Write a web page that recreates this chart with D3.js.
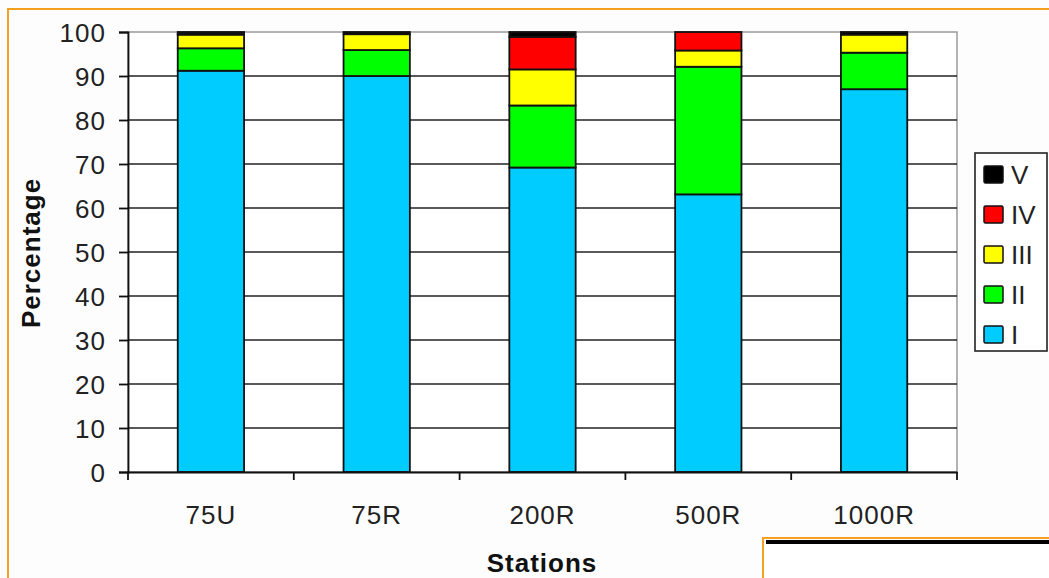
<!DOCTYPE html>
<html>
<head>
<meta charset="utf-8">
<script src="https://cdn.jsdelivr.net/npm/d3@7.9.0/dist/d3.min.js"></script>
<style>
  html, body { margin: 0; padding: 0; background: #fdfdfd; }
  svg { display: block; }
</style>
</head>
<body>
<div id="chart"></div>
<script>
// ---- data ----
const stations = ['75U', '75R', '200R', '500R', '1000R'];
const classes = ['I', 'II', 'III', 'IV', 'V'];
const classI = [91.2, 90.0, 69.2, 63.1, 87.0];
const classII = [5.1, 5.9, 14.1, 29.0, 8.3];
const classIII = [3.1, 3.6, 8.2, 3.7, 4.1];
const classIV = [0.2, 0, 7.4, 4.2, 0];
const classV = [0.4, 0.5, 1.1, 0, 0.6];
const yTicks = [0, 10, 20, 30, 40, 50, 60, 70, 80, 90, 100];

const COLORS = ['#00ccff', '#00ff00', '#ffff00', '#ff0000', '#000000'];
const FONT = '"Liberation Sans", Arial, sans-serif';

const width = 1049, height = 578;
const plot = { left: 128, right: 957, top: 32, bottom: 472 };

const rows = stations.map((s, i) => ({
    station: s,
    I: classI[i], II: classII[i], III: classIII[i], IV: classIV[i], V: classV[i]
}));
const series = d3.stack().keys(classes)(rows);

const svg = d3.select('#chart')
    .append('svg')
    .attr('width', width)
    .attr('height', height)
    .attr('viewBox', `0 0 ${width} ${height}`);

// outer orange frame
svg.append('rect')
    .attr('x', 8).attr('y', 9)
    .attr('width', width + 20).attr('height', height + 20)
    .attr('fill', '#fdfdfd')
    .attr('stroke', '#f5a01e')
    .attr('stroke-width', 2);

const x = d3.scaleBand().domain(stations).range([plot.left, plot.right]).padding(0);
const y = d3.scaleLinear().domain([0, 100]).range([plot.bottom, plot.top]);

// plot area
svg.append('rect')
    .attr('x', plot.left).attr('y', plot.top)
    .attr('width', plot.right - plot.left).attr('height', plot.bottom - plot.top)
    .attr('fill', '#ffffff')
    .attr('stroke', '#9a9a9a')
    .attr('stroke-width', 1.5);

// gridlines
svg.append('g')
    .selectAll('line')
    .data(yTicks.filter(d => d > 0 && d < 100))
    .join('line')
    .attr('x1', plot.left).attr('x2', plot.right)
    .attr('y1', d => y(d)).attr('y2', d => y(d))
    .attr('stroke', '#222')
    .attr('stroke-width', 1.6);

// y axis
const yAxis = svg.append('g')
    .attr('transform', `translate(${plot.left},0)`)
    .call(d3.axisLeft(y).tickValues(yTicks).tickSize(9).tickPadding(13));
yAxis.select('.domain').attr('stroke', '#111').attr('stroke-width', 1.8);
yAxis.selectAll('.tick line').attr('stroke', '#111').attr('stroke-width', 1.8);
yAxis.selectAll('.tick text')
    .attr('fill', '#222')
    .attr('font-family', FONT)
    .attr('font-size', '26px')
    .attr('letter-spacing', '1px')
    .attr('dy', '0.36em');

// bars
const barW = x.bandwidth() * 0.4;
svg.append('g')
    .selectAll('g')
    .data(series)
    .join('g')
    .attr('fill', (_, i) => COLORS[i])
    .selectAll('rect')
    .data(d => d.filter(p => p[1] - p[0] > 0))
    .join('rect')
    .attr('x', d => x(d.data.station) + (x.bandwidth() - barW) / 2)
    .attr('y', d => y(d[1]))
    .attr('width', barW)
    .attr('height', d => y(d[0]) - y(d[1]))
    .attr('stroke', '#111')
    .attr('stroke-width', 1.8);

// x axis
const xAxis = svg.append('g')
    .attr('transform', `translate(0,${plot.bottom})`)
    .call(d3.axisBottom(x).tickSize(0).tickPadding(34));
xAxis.select('.domain').attr('stroke', '#111').attr('stroke-width', 1.8);
xAxis.selectAll('.tick text')
    .attr('fill', '#222')
    .attr('font-family', FONT)
    .attr('font-size', '26px')
    .attr('letter-spacing', '1px');

// x ticks sit on the category boundaries
svg.append('g')
    .selectAll('line')
    .data(stations.map(s => x(s)).concat([x(stations[stations.length - 1]) + x.bandwidth()]))
    .join('line')
    .attr('x1', d => d).attr('x2', d => d)
    .attr('y1', plot.bottom).attr('y2', plot.bottom + 8)
    .attr('stroke', '#111')
    .attr('stroke-width', 1.8);

// axis titles
svg.append('text')
    .attr('x', 542).attr('y', 572)
    .attr('text-anchor', 'middle')
    .attr('font-family', FONT)
    .attr('font-size', '26px')
    .attr('font-weight', 'bold')
    .attr('letter-spacing', '1px')
    .attr('fill', '#111')
    .text('Stations');

svg.append('text')
    .attr('transform', 'translate(40,253) rotate(-90)')
    .attr('text-anchor', 'middle')
    .attr('font-family', FONT)
    .attr('font-size', '26px')
    .attr('font-weight', 'bold')
    .attr('letter-spacing', '1px')
    .attr('fill', '#111')
    .text('Percentage');

// legend
const legendOrder = classes.slice().reverse();
const ly = d3.scaleBand().domain(legendOrder).range([155, 355]);
svg.append('rect')
    .attr('x', 975).attr('y', 153)
    .attr('width', 72).attr('height', 198)
    .attr('fill', '#ffffff')
    .attr('stroke', '#222')
    .attr('stroke-width', 1.6);

const item = svg.append('g')
    .selectAll('g')
    .data(legendOrder)
    .join('g')
    .attr('transform', d => `translate(984,${ly(d) + ly.bandwidth() / 2})`);

item.append('rect')
    .attr('x', 0).attr('y', -9)
    .attr('width', 19).attr('height', 17)
    .attr('rx', 1.5)
    .attr('fill', d => COLORS[classes.indexOf(d)])
    .attr('stroke', '#111')
    .attr('stroke-width', 1.5);

item.append('text')
    .attr('x', 27).attr('y', 0)
    .attr('dy', '0.36em')
    .attr('font-family', FONT)
    .attr('font-size', '26px')
    .attr('fill', '#222')
    .text(d => d);

// fragment of the next frame in the lower right corner
svg.append('rect')
    .attr('x', 763).attr('y', 538)
    .attr('width', 400).attr('height', 100)
    .attr('fill', '#ffffff')
    .attr('stroke', '#f5a01e')
    .attr('stroke-width', 2);
svg.append('line')
    .attr('x1', 766).attr('x2', width)
    .attr('y1', 542).attr('y2', 542)
    .attr('stroke', '#000')
    .attr('stroke-width', 4);
</script>
</body>
</html>
